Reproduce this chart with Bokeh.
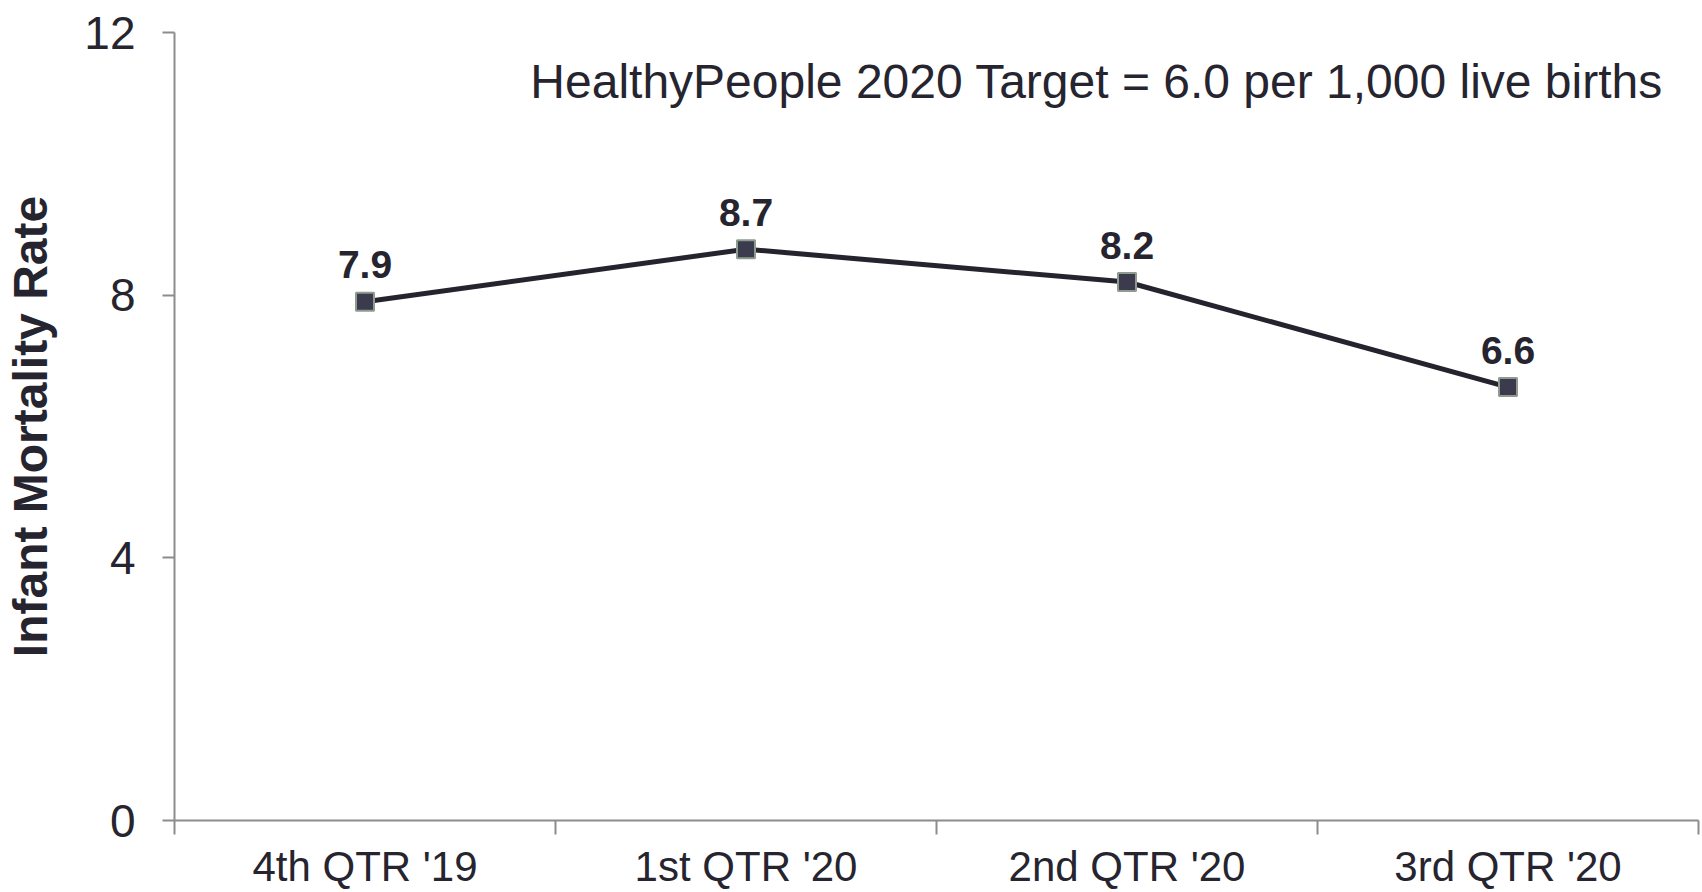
from bokeh.plotting import figure
from bokeh.models import Range1d, FixedTicker, Label, ColumnDataSource
from bokeh.core.properties import value
from bokeh.embed import file_html
from bokeh.resources import INLINE

categories = ["4th QTR '19", "1st QTR '20", "2nd QTR '20", "3rd QTR '20"]
rates = [7.9, 8.7, 8.2, 6.6]
rate_labels = ["7.9", "8.7", "8.2", "6.6"]
y_ticks = [0, 4, 8, 12]
note = "HealthyPeople 2020 Target = 6.0 per 1,000 live births"

FONT = "Liberation Sans"
TXT = "#26252f"
AXIS = "#8c8c8c"

xpos = [i + 0.5 for i in range(len(categories))]
src = ColumnDataSource(dict(x=xpos, y=rates, lab=rate_labels))

p = figure(width=1700, height=892, output_backend="svg", toolbar_location=None,
           x_range=Range1d(0, len(categories)), y_range=Range1d(0, 12),
           min_border_left=174, min_border_right=2, min_border_top=32, min_border_bottom=68)
p.outline_line_color = None
p.xgrid.grid_line_color = None
p.ygrid.grid_line_color = None
p.background_fill_color = "white"

# y axis
p.yaxis.ticker = FixedTicker(ticks=y_ticks)
p.yaxis.axis_line_color = AXIS
p.yaxis.axis_line_width = 2
p.yaxis.major_tick_line_color = AXIS
p.yaxis.major_tick_line_width = 2
p.yaxis.major_tick_in = 0
p.yaxis.major_tick_out = 12
p.yaxis.minor_tick_line_color = None
p.yaxis.major_label_text_font = FONT
p.yaxis.major_label_text_font_size = "46px"
p.yaxis.major_label_text_color = TXT
p.yaxis.major_label_standoff = 27
p.yaxis.axis_label = "Infant Mortality Rate"
p.yaxis.axis_label_text_font = FONT
p.yaxis.axis_label_text_font_size = "48px"
p.yaxis.axis_label_text_font_style = "bold"
p.yaxis.axis_label_text_color = TXT
p.yaxis.axis_label_standoff = 24

# x axis: labels at category centers, ticks at boundaries
p.xaxis.ticker = FixedTicker(ticks=xpos, minor_ticks=list(range(len(categories) + 1)))
p.xaxis.major_label_overrides = {x: c for x, c in zip(xpos, categories)}
p.xaxis.axis_line_color = AXIS
p.xaxis.axis_line_width = 2
p.xaxis.major_tick_line_color = None
p.xaxis.major_tick_out = 14
p.xaxis.major_tick_in = 0
p.xaxis.minor_tick_line_color = AXIS
p.xaxis.minor_tick_line_width = 2
p.xaxis.minor_tick_in = 0
p.xaxis.minor_tick_out = 14
p.xaxis.major_label_text_font = FONT
p.xaxis.major_label_text_font_size = "42px"
p.xaxis.major_label_text_color = TXT
p.xaxis.major_label_standoff = 8

p.line("x", "y", source=src, line_color="#25232e", line_width=5)
p.scatter("x", "y", source=src, marker="square", size=18,
          fill_color="#3c3b4d", line_color="#8d9c8f", line_width=2)
p.text("x", "y", text="lab", source=src, y_offset=-37,
       text_font=value(FONT), text_font_size="39px", text_font_style="bold",
       text_color=TXT, text_align="center", text_baseline="alphabetic")

p.add_layout(Label(x=0.934, y=11.25, text=note, text_font=FONT,
                   text_font_size="48px", text_color=TXT,
                   text_align="left", text_baseline="alphabetic"))

open("out.html", "w").write(file_html(p, INLINE))
